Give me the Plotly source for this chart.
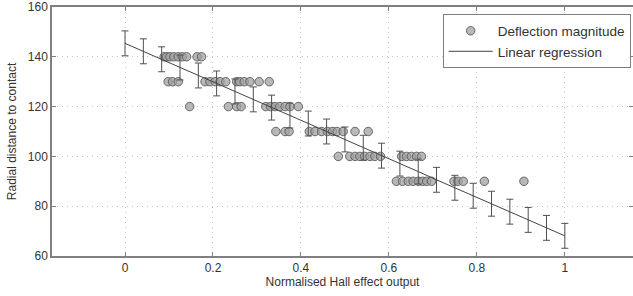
import plotly.graph_objects as go

# Deflection magnitude samples: normalised Hall output per radial distance
x_140 = [0.089, 0.095, 0.102, 0.111, 0.121, 0.130, 0.140, 0.164, 0.174]
x_130 = [0.098, 0.108, 0.121, 0.182, 0.193, 0.205, 0.216, 0.229, 0.254, 0.261, 0.271, 0.284, 0.305, 0.328]
x_120 = [0.147, 0.235, 0.254, 0.264, 0.320, 0.331, 0.341, 0.352, 0.364, 0.375, 0.394]
x_110 = [0.343, 0.364, 0.373, 0.419, 0.432, 0.447, 0.460, 0.472, 0.482, 0.496, 0.523, 0.553]
x_100 = [0.485, 0.511, 0.523, 0.534, 0.545, 0.557, 0.568, 0.581, 0.629, 0.640, 0.651, 0.663, 0.674]
x_90 = [0.617, 0.631, 0.644, 0.655, 0.667, 0.677, 0.686, 0.697, 0.748, 0.757, 0.769, 0.817, 0.907]
distances = [140, 130, 120, 110, 100, 90]

# Linear regression with error bars
reg_x = [0.0, 0.0417, 0.0833, 0.125, 0.1667, 0.2083, 0.25, 0.2917, 0.3333, 0.375, 0.4167,
         0.4583, 0.5, 0.5417, 0.5833, 0.625, 0.6667, 0.7083, 0.75, 0.7917, 0.8333, 0.875,
         0.9167, 0.9583, 1.0]
reg_y = [145.4, 142.2, 139.0, 135.7, 132.5, 129.3, 126.1, 122.9, 119.6, 116.4, 113.2,
         110.0, 106.8, 103.5, 100.3, 97.1, 93.9, 90.6, 87.4, 84.2, 81.0, 77.8, 74.5, 71.3, 68.1]
reg_err = [5.0] * 25

x_ticks = [0, 0.2, 0.4, 0.6, 0.8, 1]
x_tick_labels = ["0", "0.2", "0.4", "0.6", "0.8", "1"]
y_ticks = [60, 80, 100, 120, 140, 160]

rows = [x_140, x_130, x_120, x_110, x_100, x_90]
pts_x, pts_y = [], []
for d, xs in zip(distances, rows):
    pts_x += xs
    pts_y += [d] * len(xs)

fig = go.Figure()
fig.add_trace(go.Scatter(
    x=pts_x, y=pts_y, mode="markers", name="Deflection magnitude",
    marker=dict(size=8.5, color="rgba(160,160,160,0.75)",
                line=dict(color="rgba(85,85,85,0.85)", width=1)),
))
fig.add_trace(go.Scatter(
    x=reg_x, y=reg_y, mode="lines", name="Linear regression",
    line=dict(color="#444444", width=1),
    error_y=dict(type="data", array=reg_err, visible=True, color="#505050",
                 thickness=1, width=3.5),
))

axis_common = dict(
    showline=True, linecolor="#808080", linewidth=1.5, mirror="allticks",
    ticks="inside", ticklen=4, tickcolor="#808080",
    showgrid=True, gridcolor="#c4c4c4", griddash="1px,4px", gridwidth=1,
    zeroline=False, tickfont=dict(size=12, color="#333333"), automargin=False,
    ticklabeloverflow="allow",
)

fig.update_layout(
    width=633, height=296,
    margin=dict(l=52, r=0, t=7, b=40),
    paper_bgcolor="white", plot_bgcolor="white",
    font=dict(family="Liberation Sans, Arial, sans-serif", color="#333333", size=12),
    xaxis=dict(range=[-0.166, 1.155], tickvals=x_ticks, ticktext=x_tick_labels,
               title=dict(text="Normalised Hall effect output", standoff=3,
                          font=dict(size=12, color="#333333")),
               **axis_common),
    yaxis=dict(range=[60, 160], tickvals=y_ticks,
               title=dict(text="Radial distance to contact", standoff=9,
                          font=dict(size=12, color="#333333")),
               **axis_common),
    legend=dict(x=0.996, y=0.97, xanchor="right", yanchor="top",
                bgcolor="white", bordercolor="#808080", borderwidth=1,
                font=dict(size=13.5, color="#333333"),
                tracegroupgap=0, itemwidth=44),
    showlegend=True,
)

fig.write_html("out.html", config={"displayModeBar": False},
               post_script="document.body.style.margin='0';document.body.style.overflow='hidden';")
